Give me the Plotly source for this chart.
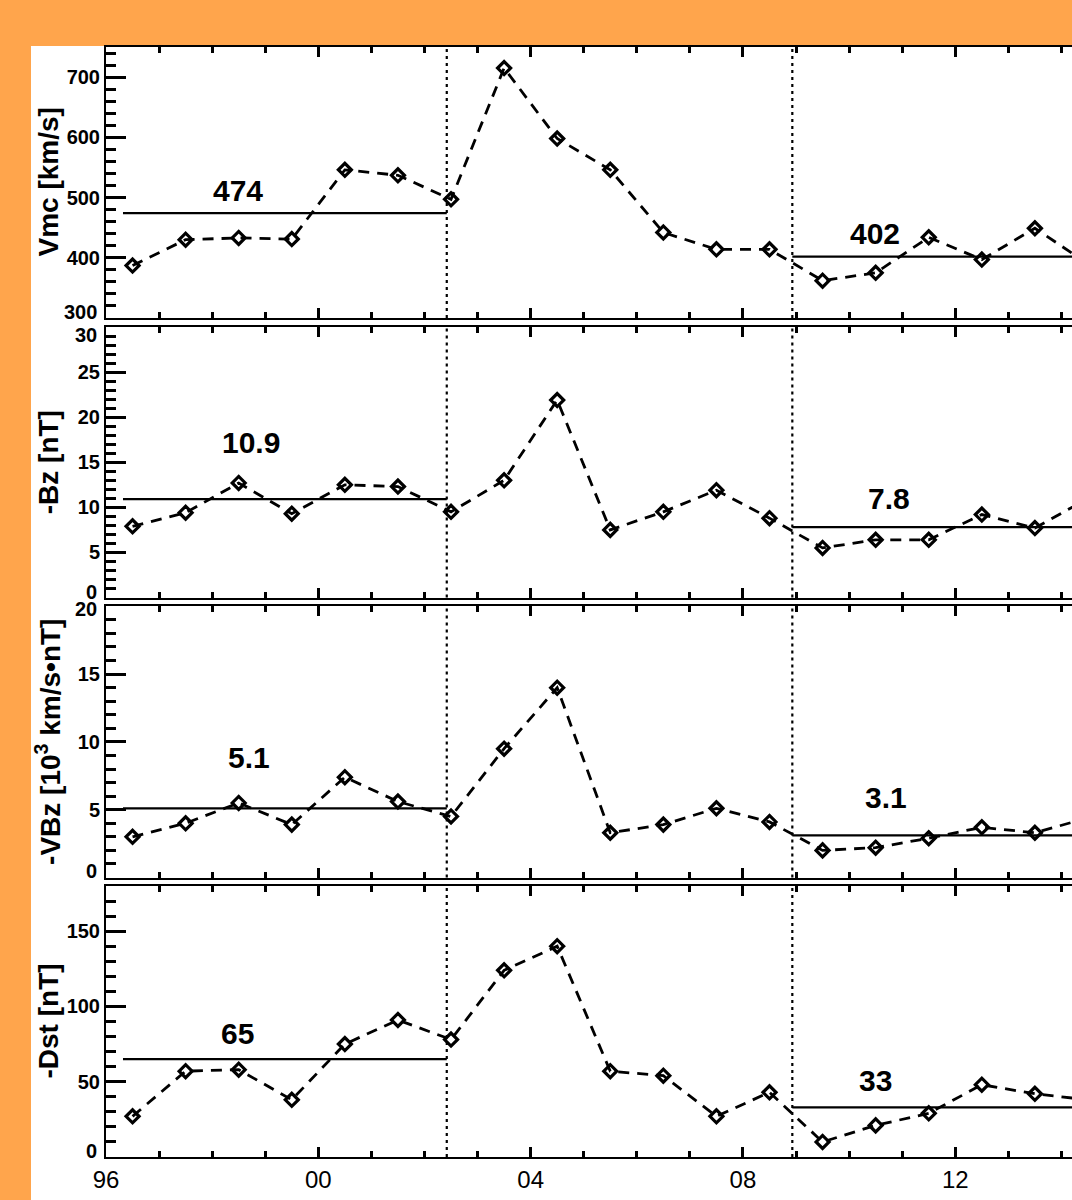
import plotly.graph_objects as go
from plotly.subplots import make_subplots

# ---------------- data ----------------
years = [1996.5, 1997.5, 1998.5, 1999.5, 2000.5, 2001.5, 2002.5, 2003.5, 2004.5, 2005.5,
         2006.5, 2007.5, 2008.5, 2009.5, 2010.5, 2011.5, 2012.5, 2013.5, 2014.5]
vmc = [387, 430, 433, 431, 546, 537, 497, 715, 598, 546, 442, 414, 414, 362, 375, 434, 397, 449, 390]
bz = [7.9, 9.4, 12.7, 9.3, 12.5, 12.3, 9.5, 13.0, 21.9, 7.5, 9.5, 11.9, 8.8, 5.5, 6.4, 6.4, 9.2, 7.7, 11.0]
vbz = [3.0, 4.0, 5.5, 3.9, 7.4, 5.6, 4.5, 9.5, 14.0, 3.3, 3.9, 5.1, 4.1, 2.0, 2.2, 2.9, 3.7, 3.3, 4.4]
dst = [27, 57, 58, 38, 75, 91, 78, 124, 140, 57, 54, 27, 43, 10, 21, 29, 48, 42, 38]

mean_vmc = [474, 402]
mean_bz = [10.9, 7.8]
mean_vbz = [5.1, 3.1]
mean_dst = [65, 33]

period_starts = [1996.32, 2008.93]
period_ends = [2002.42, 2015.5]
boundaries = [2002.42, 2008.93]

xtick_vals = [1996, 2000, 2004, 2008, 2012]
xtick_text = ["96", "00", "04", "08", "12"]

ytick_vmc = [300, 400, 500, 600, 700]
ytick_bz = [0, 5, 10, 15, 20, 25, 30]
ytick_vbz = [0, 5, 10, 15, 20]
ytick_dst = [0, 50, 100, 150]

titles = ["Vmc [km/s]", "-Bz [nT]", "-VBz [10<sup>3</sup> km/s\u2022nT]", "-Dst [nT]"]

# ---------------- style ----------------
W, H = 1072, 1200
ML, MR, MT, MB = 106, 0, 46, 42
PW = W - ML - MR
PH = H - MT - MB
ORANGE = "#FFA54C"
FONT = "Liberation Sans, Arial, Helvetica, sans-serif"
TICKFONT = dict(family=FONT, size=20, color="black", weight="bold")
LW = 2

def dom(top_px, bot_px):
    return [(H - MB - bot_px) / PH, (H - MB - top_px) / PH]

# axis line centres: 46/319, 326/598.5, 605.3/878.5, 885/1158 (domains inset by LW/2)
domains = [dom(47, 318), dom(327, 597.5), dom(606.3, 877.5), dom(886, 1157)]

# edge labels nudged inward (pixel shift) like the original plotting package does
panels = [
    dict(y=vmc, means=mean_vmc, rng=[300, 750], ticks=ytick_vmc, mdtick=20,
         edge={300: 6},
         lab_x=[1998.48, 2010.49], lab_shift=[22.5, 23.4]),
    dict(y=bz, means=mean_bz, rng=[0, 30], ticks=ytick_bz, mdtick=1,
         edge={30: -8, 0: 6},
         lab_x=[1998.74, 2010.75], lab_shift=[56.5, 29]),
    dict(y=vbz, means=mean_vbz, rng=[0, 20], ticks=ytick_vbz, mdtick=1,
         edge={20: -3, 0: 6},
         lab_x=[1998.70, 2010.70], lab_shift=[51, 38.4]),
    dict(y=dst, means=mean_dst, rng=[0, 180], ticks=ytick_dst, mdtick=10,
         edge={0: 6},
         lab_x=[1998.48, 2010.50], lab_shift=[26, 27]),
]

fig = make_subplots(rows=4, cols=1, shared_xaxes=False, vertical_spacing=0.01)

xrange = [1996, 1996 + PW / 53.08]

for i, p in enumerate(panels):
    r = i + 1
    xr = f"x{r}" if r > 1 else "x"
    yr = f"y{r}" if r > 1 else "y"
    # data line
    fig.add_trace(go.Scatter(
        x=years, y=p["y"], mode="lines+markers",
        line=dict(color="black", width=2.8, dash="11px,8px"),
        marker=dict(symbol="diamond-open", size=10, color="black",
                    line=dict(color="black", width=3.2)),
        showlegend=False, hoverinfo="skip"), row=r, col=1)
    # mean lines
    for k in range(2):
        fig.add_trace(go.Scatter(
            x=[period_starts[k], period_ends[k]], y=[p["means"][k], p["means"][k]],
            mode="lines", line=dict(color="black", width=2.2),
            showlegend=False, hoverinfo="skip"), row=r, col=1)
        fig.add_annotation(
            x=p["lab_x"][k], y=p["means"][k], yshift=p["lab_shift"][k],
            xref=xr, yref=yr,
            text=str(p["means"][k]), showarrow=False,
            font=dict(family=FONT, size=30, color="black", weight="bold"),
            xanchor="center", yanchor="middle")
    # dotted boundaries
    for b in boundaries:
        fig.add_shape(type="line", x0=b, x1=b, y0=0, y1=1,
                      xref=xr, yref=yr + " domain",
                      line=dict(color="black", width=2.2, dash="3px,4px"))
    # y title
    fig.add_annotation(
        x=(48 - ML) / PW, xref="paper",
        y=0.5, yref=yr + " domain",
        text=titles[i], textangle=-90, showarrow=False,
        font=dict(family=FONT, size=28, color="black", weight="bold"),
        xanchor="center", yanchor="middle")

    # tick labels: inner ones on the axis, edge ones as shifted texts
    inner = [v for v in p["ticks"] if v not in p["edge"]]
    for v, sh in p["edge"].items():
        fig.add_annotation(
            x=(ML - 7 - ML) / PW, xref="paper", y=v, yref=yr, yshift=sh,
            text=str(v), showarrow=False, font=TICKFONT,
            xanchor="right", yanchor="middle")

    fig.update_yaxes(
        row=r, col=1, domain=domains[i], range=p["rng"],
        tickvals=inner, ticktext=[str(v) for v in inner],
        showline=True, linewidth=LW, linecolor="black", mirror=False,
        ticks="inside", ticklen=20, tickwidth=2.5, tickcolor="black",
        minor=dict(ticks="inside", ticklen=10, tickwidth=2.5, tickcolor="black",
                   dtick=p["mdtick"], tick0=0),
        showgrid=False, zeroline=False,
        tickfont=TICKFONT)
    fig.update_xaxes(
        row=r, col=1, range=xrange, anchor=yr,
        tickvals=xtick_vals, ticktext=xtick_text,
        showticklabels=(r == 4),
        showline=True, linewidth=LW, linecolor="black", mirror="ticks",
        ticks="inside", ticklen=10, tickwidth=2.5, tickcolor="black",
        minor=dict(ticks="inside", ticklen=6, tickwidth=2.5, tickcolor="black",
                   dtick=1, tick0=1996),
        showgrid=False, zeroline=False,
        tickfont=dict(family=FONT, size=24, color="black"))

# white background panel over orange page
fig.add_shape(type="rect", xref="paper", yref="paper",
              x0=(31 - ML) / PW, x1=1.05, y0=-0.1, y1=1.0,
              fillcolor="white", line=dict(width=0), layer="below")

fig.update_layout(
    width=W, height=H,
    margin=dict(l=ML, r=MR, t=MT, b=MB, pad=0),
    paper_bgcolor=ORANGE, plot_bgcolor="white",
    font=dict(family=FONT, color="black"),
    showlegend=False,
)

fig.write_html("out.html",
               config={"displayModeBar": False},
               post_script="document.body.style.margin='0';document.body.style.overflow='hidden';")
